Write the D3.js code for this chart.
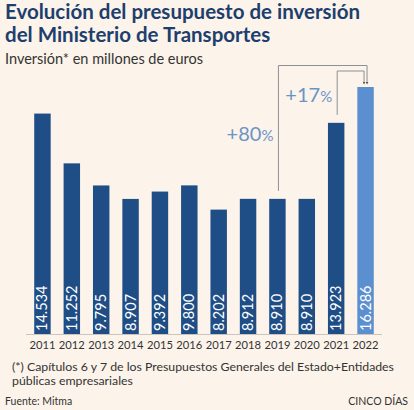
<!DOCTYPE html>
<html>
<head>
<meta charset="utf-8">
<script src="https://cdn.jsdelivr.net/npm/d3@7"></script>
<style>
  html, body { margin: 0; padding: 0; background: #fcf3ea; }
  svg { display: block; font-family: Lato, "Open Sans", sans-serif; }
</style>
</head>
<body>
<svg class="chart"></svg>
<script>
var years = ["2011", "2012", "2013", "2014", "2015", "2016", "2017", "2018", "2019", "2020", "2021", "2022"];
var inversion = [14534, 11252, 9795, 8907, 9392, 9800, 8202, 8912, 8910, 8910, 13923, 16286];
var valueLabels = ["14.534", "11.252", "9.795", "8.907", "9.392", "9.800", "8.202", "8.912", "8.910", "8.910", "13.923", "16.286"];
var changes = [
  {from: "2019", to: "2022", label: "+80", level: 0},
  {from: "2021", to: "2022", label: "+17", level: 1}
];

var width = 414, height = 410;
var baseY = 334;

var svg = d3.select(".chart")
    .attr("width", width)
    .attr("height", height);

svg.append("rect")
    .attr("width", width)
    .attr("height", height)
    .attr("fill", "#fcf3ea");

// titles
var title = svg.append("text")
    .attr("x", 5)
    .attr("fill", "#1d3f6e")
    .style("font-size", "20.5px")
    .style("font-weight", "bold");
title.append("tspan").attr("x", 5).attr("y", 19).text("Evolución del presupuesto de inversión");
title.append("tspan").attr("x", 5).attr("y", 42).text("del Ministerio de Transportes");

svg.append("text")
    .attr("x", 5)
    .attr("y", 64)
    .attr("fill", "#333")
    .style("font-size", "14.5px")
    .text("Inversión* en millones de euros");

var x = d3.scaleBand()
    .domain(years)
    .range([26, 382])
    .paddingInner(0.44)
    .paddingOuter(0.28);

var y = d3.scaleLinear()
    .domain([0, 16286])
    .range([baseY, 87]);

var data = years.map(function(d, i) {
  return {year: d, value: inversion[i], label: valueLabels[i]};
});

// baseline
svg.append("line")
    .attr("x1", 26)
    .attr("x2", 382)
    .attr("y1", baseY + 0.5)
    .attr("y2", baseY + 0.5)
    .attr("stroke", "#c9c6c2")
    .attr("stroke-width", 1);

svg.selectAll(".bar")
    .data(data)
  .enter().append("rect")
    .attr("class", "bar")
    .attr("x", function(d) { return x(d.year); })
    .attr("y", function(d) { return y(d.value); })
    .attr("width", x.bandwidth())
    .attr("height", function(d) { return baseY - y(d.value); })
    .attr("fill", function(d) { return d.year == "2022" ? "#5b8fcf" : "#1f4e87"; });

svg.selectAll(".val")
    .data(data)
  .enter().append("text")
    .attr("class", "val")
    .attr("transform", function(d) {
      return "translate(" + (x(d.year) + x.bandwidth() / 2 + 5) + "," + (baseY - 3) + ") rotate(-90)";
    })
    .attr("fill", "#fff")
    .style("font-size", "14.5px")
    .text(function(d) { return d.label; });

// x axis labels
var xAxis = d3.axisBottom(x).tickSize(0).tickPadding(7);
var gx = svg.append("g")
    .attr("transform", "translate(0," + baseY + ")")
    .call(xAxis);
gx.select(".domain").remove();
gx.selectAll("text")
    .attr("fill", "#333")
    .style("font-family", "Lato, sans-serif")
    .style("font-size", "11.2px");

// change annotations
var levels = [65.5, 71];
var lineColor = "#8d9096";
svg.append("defs").append("marker")
    .attr("id", "arrow")
    .attr("viewBox", "0 0 4 4")
    .attr("refX", 2)
    .attr("refY", 2)
    .attr("markerWidth", 3)
    .attr("markerHeight", 3)
    .attr("markerUnits", "userSpaceOnUse")
    .attr("orient", "auto")
  .append("path")
    .attr("d", "M0,0L4,2L0,4Z")
    .attr("fill", "#555");

changes.forEach(function(c) {
  var x0 = x(c.from) + x.bandwidth() / 2 + 1;
  var xEnd = x(c.to) + x.bandwidth() / 2 + (c.level == 0 ? 1.5 : -1.5);
  var yStart = y(inversion[years.indexOf(c.from)]) - 8;
  var yTop = levels[c.level];
  var yTip = y(inversion[years.indexOf(c.to)]) - 4;
  svg.append("path")
      .attr("d", "M" + x0 + "," + yStart + "V" + yTop + "H" + xEnd + "V" + yTip)
      .attr("fill", "none")
      .attr("stroke", lineColor)
      .attr("stroke-width", 1)
      .attr("marker-end", "url(#arrow)");

  var t = svg.append("text")
      .attr("x", x0 - 5)
      .attr("y", c.level == 0 ? 141 : 102)
      .attr("text-anchor", "end")
      .attr("fill", "#6b94c6")
      .style("font-size", "20px");
  t.append("tspan").text(c.label);
  t.append("tspan").style("font-size", "15px").text("%");
});

// footnotes
var note = svg.append("text")
    .attr("fill", "#333")
    .style("font-size", "12.3px");
note.append("tspan").attr("x", 12).attr("y", 371).text("(*) Capítulos 6 y 7 de los Presupuestos Generales del Estado+Entidades");
note.append("tspan").attr("x", 12).attr("y", 385).text("públicas empresariales");

svg.append("text")
    .attr("x", 5)
    .attr("y", 405)
    .attr("fill", "#333")
    .style("font-size", "10.5px")
    .text("Fuente: Mitma");

svg.append("text")
    .attr("x", 408)
    .attr("y", 405)
    .attr("text-anchor", "end")
    .attr("fill", "#333")
    .style("font-size", "10.5px")
    .text("CINCO DÍAS");
</script>
</body>
</html>
